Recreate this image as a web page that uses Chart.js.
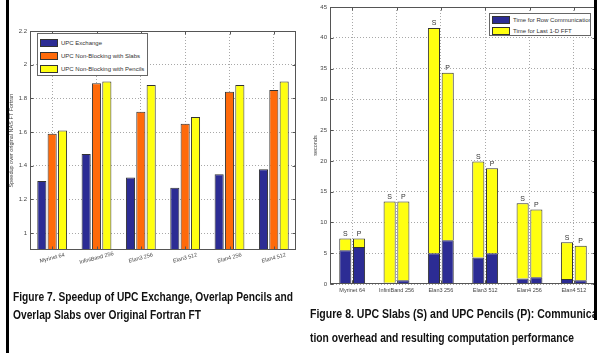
<!DOCTYPE html>
<html lang="en">
<head>
<meta charset="UTF-8">
<title>UPC FT speedup and communication time</title>
<script src="https://cdn.jsdelivr.net/npm/chart.js@4"></script>
<style>
* { margin: 0; padding: 0; box-sizing: border-box; }
body {
    width: 597px;
    height: 353px;
    background: #fff;
    position: relative;
    overflow: hidden;
    font-family: Arial, "Liberation Sans", sans-serif;
}
canvas { position: absolute; }
#fig7 { left: 0; top: 0; }
#fig8 { left: 300px; top: 0; }
.bar-left { position: absolute; left: 6px; top: 0; width: 3px; height: 353px; background: #000; }
.bar-right { position: absolute; left: 594px; top: 0; width: 3px; height: 320px; background: #000; }
.legend {
    position: absolute;
    background: #fff;
    border: 1px solid #666;
    font-size: 6px;
    color: #333;
    overflow: hidden;
}
.legend div { display: flex; align-items: center; white-space: nowrap; }
.legend .sw { display: inline-block; width: 18px; height: 8px; border: 1px solid #333; margin: 0 3px 0 2px; flex: none; }
.caption {
    position: absolute;
    font-family: "Liberation Sans", Arial, sans-serif;
    font-weight: bold;
    font-size: 12.5px;
    color: #111;
    white-space: nowrap;
    overflow: hidden;
}
.caption span { display: block; transform-origin: 0 50%; width: max-content; }
</style>
</head>
<body>
<canvas id="fig7" width="300" height="285"></canvas>
<canvas id="fig8" width="297" height="300"></canvas>

<div class="legend" id="legend7" style="left:37px; top:33px; width:111px; height:43px; padding-top:2px;"></div>
<div class="legend" id="legend8" style="left:489px; top:13px; width:102px; height:23px; padding-top:1px;"></div>

<div class="caption" style="left:13px; top:288px; width:290px; line-height:18px;">
    <span data-w="280">Figure 7. Speedup of UPC Exchange, Overlap Pencils and</span>
    <span data-w="188">Overlap Slabs over Original Fortran FT</span>
</div>
<div class="caption" style="left:310px; top:302px; width:287px; line-height:24px;">
    <span data-w="291">Figure 8. UPC Slabs (S) and UPC Pencils (P): Communica-</span>
    <span data-w="264">tion overhead and resulting computation performance</span>
</div>

<div class="bar-left"></div>
<div class="bar-right"></div>

<script>
// shared categories
const machines = ['Myrinet 64', 'InfiniBand 256', 'Elan3 256', 'Elan3 512', 'Elan4 256', 'Elan4 512'];

// Figure 7: speedup over original NAS FT Fortran
const speedupNames = ['UPC Exchange', 'UPC Non-Blocking with Slabs', 'UPC Non-Blocking with Pencils'];
const upcExchange = [1.31, 1.47, 1.33, 1.27, 1.35, 1.38];
const nbSlabs     = [1.59, 1.89, 1.72, 1.65, 1.84, 1.85];
const nbPencils   = [1.61, 1.90, 1.88, 1.69, 1.88, 1.90];
const speedupTicks = [1, 1.2, 1.4, 1.6, 1.8, 2, 2.2];

// Figure 8: seconds, S = slabs, P = pencils
const timeNames = ['Time for Row Communication', 'Time for Last 1-D FFT'];
const rowCommS = [5.5, 0.2, 5.0, 4.3, 0.9, 0.8];
const lastFftS = [1.9, 13.2, 36.6, 15.6, 12.2, 6.0];
const rowCommP = [6.0, 0.6, 7.1, 5.0, 1.1, 0.6];
const lastFftP = [1.4, 12.8, 27.2, 13.8, 11.0, 5.6];
const secondsTicks = [0, 5, 10, 15, 20, 25, 30, 35, 40, 45];

const blue = '#2c2c94';
const orange = '#ff6a0a';
const yellow = '#ffff10';
const edge = '#333';
const gridColor = '#a8a8a8';
const tickColor = '#444';

// squeeze caption lines to the narrow face of the scan
document.querySelectorAll('.caption span').forEach(sp => {
    const k = Number(sp.dataset.w) / sp.getBoundingClientRect().width;
    sp.style.transform = 'scaleX(' + k + ')';
});

function buildLegend(id, names, colors) {
    const box = document.getElementById(id);
    names.forEach((n, i) => {
        const row = document.createElement('div');
        row.style.height = id === 'legend7' ? '13px' : '10.5px';
        row.innerHTML = '<span class="sw" style="background:' + colors[i] + '"></span>' + n;
        box.appendChild(row);
    });
}
buildLegend('legend7', speedupNames, [blue, orange, yellow]);
buildLegend('legend8', timeNames, [blue, yellow]);

// matlab-like box with inward ticks
const boxPlugin = {
    id: 'box',
    afterDraw(chart) {
        const a = chart.chartArea, ctx = chart.ctx;
        const l = Math.round(a.left) + 0.5, t = Math.round(a.top) + 0.5;
        const r = Math.round(a.right) - 0.5, b = Math.round(a.bottom) - 0.5;
        ctx.save();
        ctx.strokeStyle = '#555';
        ctx.lineWidth = 1;
        ctx.strokeRect(l, t, r - l, b - t);
        ctx.beginPath();
        chart.scales.y.ticks.forEach(tk => {
            const y = Math.round(chart.scales.y.getPixelForValue(tk.value)) + 0.5;
            ctx.moveTo(l, y); ctx.lineTo(l + 3, y);
            ctx.moveTo(r, y); ctx.lineTo(r - 3, y);
        });
        chart.scales.x.ticks.forEach((tk, i) => {
            const x = Math.round(chart.scales.x.getPixelForTick(i)) + 0.5;
            ctx.moveTo(x, t); ctx.lineTo(x, t + 3);
            ctx.moveTo(x, b); ctx.lineTo(x, b - 3);
        });
        ctx.stroke();
        ctx.restore();
    }
};

// rotated, centred category labels for figure 7
const slantLabels = {
    id: 'slantLabels',
    afterDraw(chart) {
        if (chart.canvas.id !== 'fig7') return;
        const ctx = chart.ctx, sx = chart.scales.x, a = chart.chartArea;
        ctx.save();
        ctx.fillStyle = tickColor;
        ctx.font = '5.5px Arial, "Liberation Sans", sans-serif';
        ctx.textAlign = 'center';
        ctx.textBaseline = 'middle';
        machines.forEach((m, i) => {
            ctx.save();
            ctx.translate(sx.getPixelForTick(i), a.bottom + 8);
            ctx.rotate(-15 * Math.PI / 180);
            ctx.fillText(m, 0, 0);
            ctx.restore();
        });
        ctx.restore();
    }
};

// S / P marks above the stacked bars of figure 8
const stackMarks = {
    id: 'stackMarks',
    afterDatasetsDraw(chart) {
        if (chart.canvas.id !== 'fig8') return;
        const ctx = chart.ctx;
        ctx.save();
        ctx.fillStyle = '#333';
        ctx.font = '7px Arial, "Liberation Sans", sans-serif';
        ctx.textAlign = 'center';
        ctx.textBaseline = 'bottom';
        [[1, 'S'], [3, 'P']].forEach(([di, mark]) => {
            chart.getDatasetMeta(di).data.forEach(bar => {
                ctx.fillText(mark, bar.x, bar.y - 1);
            });
        });
        ctx.restore();
    }
};

function fixedTicks(list) {
    return scale => { scale.ticks = list.map(v => ({ value: v })); };
}

const tickFont = { family: 'Arial, "Liberation Sans", sans-serif', size: 6 };

new Chart(document.getElementById('fig7'), {
    type: 'bar',
    data: {
        labels: machines,
        datasets: [
            { label: speedupNames[0], data: upcExchange, backgroundColor: blue },
            { label: speedupNames[1], data: nbSlabs, backgroundColor: orange },
            { label: speedupNames[2], data: nbPencils, backgroundColor: yellow }
        ]
    },
    options: {
        responsive: false,
        animation: false,
        layout: { padding: { top: 31, right: 4, left: 0, bottom: 0 } },
        datasets: { bar: { borderColor: edge, borderWidth: 1, categoryPercentage: 0.7, barPercentage: 0.88 } },
        plugins: { legend: { display: false }, tooltip: { enabled: false } },
        scales: {
            x: {
                ticks: { display: false },
                grid: { offset: false, color: gridColor, drawTicks: false },
                border: { display: false, dash: [1, 2] },
                afterFit: s => { s.height = 35; }
            },
            y: {
                min: 0.9,
                max: 2.2,
                afterBuildTicks: fixedTicks(speedupTicks),
                ticks: { font: tickFont, color: tickColor, padding: 3, callback: v => String(v) },
                grid: { color: gridColor, drawTicks: false },
                border: { display: false, dash: [1, 2] },
                title: {
                    display: true,
                    text: 'Speedup over original NAS FT Fortran',
                    font: { family: tickFont.family, size: 5.5 },
                    color: tickColor,
                    padding: { top: 8, bottom: 0 }
                },
                afterFit: s => { s.width = 30; }
            }
        }
    },
    plugins: [boxPlugin, slantLabels]
});

new Chart(document.getElementById('fig8'), {
    type: 'bar',
    data: {
        labels: machines,
        datasets: [
            { label: timeNames[0] + ' S', data: rowCommS, backgroundColor: blue, stack: 'S' },
            { label: timeNames[1] + ' S', data: lastFftS, backgroundColor: yellow, stack: 'S' },
            { label: timeNames[0] + ' P', data: rowCommP, backgroundColor: blue, stack: 'P' },
            { label: timeNames[1] + ' P', data: lastFftP, backgroundColor: yellow, stack: 'P' }
        ]
    },
    options: {
        responsive: false,
        animation: false,
        layout: { padding: { top: 7, right: 1, left: 0, bottom: 0 } },
        datasets: { bar: { borderColor: edge, borderWidth: 1, categoryPercentage: 0.62, barPercentage: 0.88 } },
        plugins: { legend: { display: false }, tooltip: { enabled: false } },
        scales: {
            x: {
                stacked: true,
                ticks: { font: { family: tickFont.family, size: 5.5 }, color: tickColor, padding: 3, maxRotation: 0 },
                grid: { offset: false, color: gridColor, drawTicks: false },
                border: { display: false, dash: [1, 2] },
                afterFit: s => { s.height = 16; }
            },
            y: {
                stacked: true,
                min: 0,
                max: 45,
                afterBuildTicks: fixedTicks(secondsTicks),
                ticks: { font: tickFont, color: tickColor, padding: 3 },
                grid: { color: gridColor, drawTicks: false },
                border: { display: false, dash: [1, 2] },
                title: {
                    display: true,
                    text: 'seconds',
                    font: { family: tickFont.family, size: 5.5 },
                    color: tickColor,
                    padding: { top: 12, bottom: 0 }
                },
                afterFit: s => { s.width = 30; }
            }
        }
    },
    plugins: [boxPlugin, stackMarks]
});
</script>
</body>
</html>
